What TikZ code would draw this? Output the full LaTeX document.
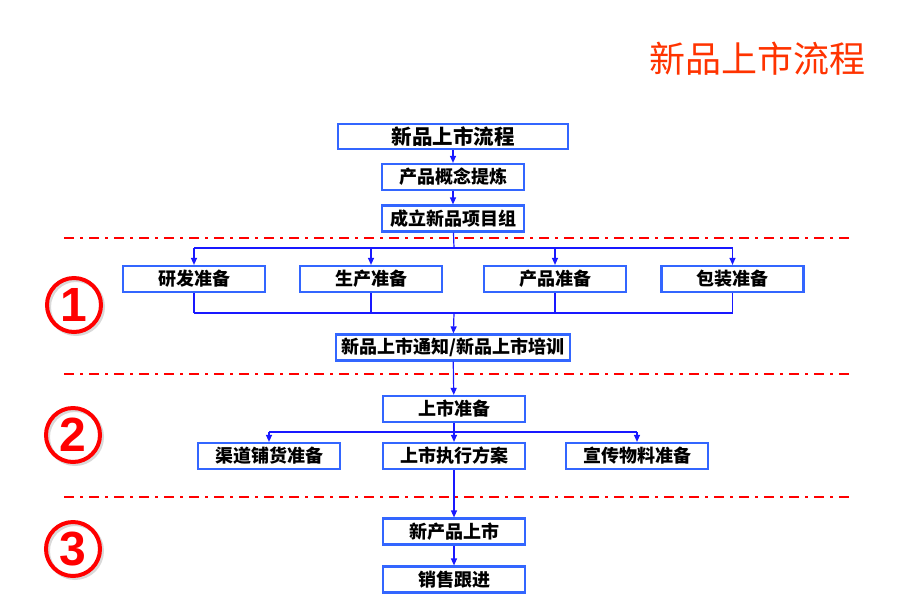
\documentclass[tikz,border=0pt]{standalone}
\usepackage{fontspec}
\setsansfont{Liberation Sans}
\newfontfamily\cjk{Noto Sans CJK SC}
\usepackage{xcolor}
\usetikzlibrary{arrows.meta}
\definecolor{boxblue}{RGB}{51,102,255}
\definecolor{linkblue}{RGB}{25,25,255}
\definecolor{titlered}{RGB}{255,51,0}

\begin{document}
\begin{tikzpicture}[
  x=1pt, y=-1pt,
  font=\cjk\bfseries\fontsize{18}{20}\selectfont,
  fbox/.style={draw=boxblue, line width=2.2pt, fill=white, inner sep=0pt, minimum height=26pt},
  narrow/.style={fbox, minimum width=142pt},
  link/.style={draw=linkblue, line width=1.2pt},
  arrow/.style={link, -{Triangle[length=7pt,width=6pt]}},
  sepline/.style={red, line width=2.5pt, dash pattern=on 10pt off 6pt on 3pt off 6pt},
  stage/.style={circle, draw=red, line width=4pt, minimum size=54pt, inner sep=0pt, text=red,
    font=\sffamily\bfseries\fontsize{48}{48}\selectfont},
  ring/.style={circle, draw=black!15, line width=4pt, minimum size=54pt, inner sep=0pt},
  heading/.style={text=titlered, font=\cjk\mdseries\fontsize{36}{40}\selectfont}
]
\useasboundingbox (0,0) rectangle (920,614);

% Title
\node[heading] (title) at (757,59) {新品上市流程};

% Stage separators
\foreach \y in {238,374,497}
  \draw[sepline] (64,\y) -- (850,\y);

% Stage numbers
\node[ring] (s1shadow) at (76,307) {};
\node[stage] (s1) at (74,305) {1};
\node[ring] (s2shadow) at (75,437) {};
\node[stage] (s2) at (73,435) {2};
\node[ring] (s3shadow) at (75,551) {};
\node[stage] (s3) at (73,549) {3};

% Top chain
\node[fbox, minimum width=230pt, minimum height=25pt, font=\cjk\bfseries\fontsize{20.5}{22}\selectfont] (start) at (453,136.5) {新品上市流程};
\node[narrow] (concept) at (453,177) {产品概念提炼};
\node[narrow] (team)    at (453,218.5) {成立新品项目组};

% Stage 1
\node[narrow] (rd)       at (194,279) {研发准备};
\node[narrow] (prod)     at (371,279) {生产准备};
\node[narrow] (prodprep) at (555,279) {产品准备};
\node[narrow] (pack)     at (732.5,279) {包装准备};
\node[fbox, minimum width=234pt] (notice) at (453,347.5) {新品上市通知/新品上市培训};

% Stage 2
\node[narrow] (launch)  at (454,409) {上市准备};
\node[narrow] (channel) at (269,456) {渠道铺货准备};
\node[narrow] (exec)    at (454,456) {上市执行方案};
\node[narrow] (promo)   at (637,456) {宣传物料准备};

% Stage 3
\node[narrow] (newprod) at (454,531.5) {新产品上市};
\node[narrow] (sales)   at (454,579.5) {销售跟进};

% Branch points
\coordinate (split) at (454,248);
\coordinate (merge) at (454,313);
\coordinate (fork)  at (454,432);

% Arrows
\draw[arrow] (start) -- (concept);
\draw[arrow] (concept) -- (team);
\draw[link] (team) -- (split);
\draw[link] (split -| rd) -- (split -| pack);
\foreach \n in {rd,prod,prodprep,pack}
  \draw[arrow] (split -| \n) -- (\n);
\foreach \n in {rd,prod,prodprep,pack}
  \draw[link] (\n) -- (merge -| \n);
\draw[link] (merge -| rd) -- (merge -| pack);
\draw[arrow] (merge) -- (notice);
\draw[arrow] (notice) -- (launch);
\draw[link] (launch) -- (fork);
\draw[link] (fork -| channel) -- (fork -| promo);
\foreach \n in {channel,exec,promo}
  \draw[arrow] (fork -| \n) -- (\n);
\draw[arrow] (exec) -- (newprod);
\draw[arrow] (newprod) -- (sales);

\end{tikzpicture}
\end{document}
